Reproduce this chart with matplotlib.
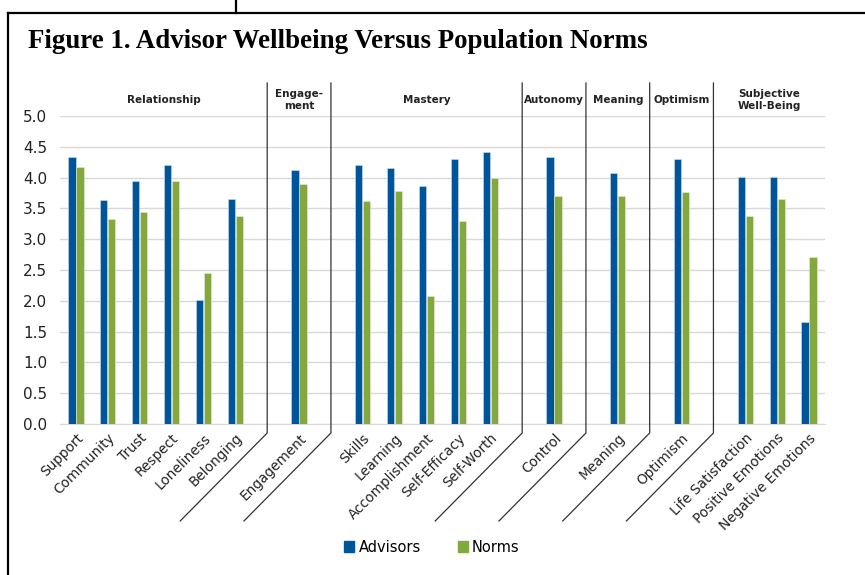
import matplotlib
matplotlib.use("Agg")
import matplotlib.pyplot as plt
from matplotlib.lines import Line2D
from matplotlib.patches import Patch
import numpy as np

categories = ["Support", "Community", "Trust", "Respect", "Loneliness", "Belonging", "",
              "Engagement", "",
              "Skills", "Learning", "Accomplishment", "Self-Efficacy", "Self-Worth", "",
              "Control", "", "Meaning", "", "Optimism", "",
              "Life Satisfaction", "Positive Emotions", "Negative Emotions"]
advisors = [4.33, 3.64, 3.95, 4.20, 2.02, 3.66, None,
            4.12, None,
            4.20, 4.16, 3.86, 4.31, 4.41, None,
            4.33, None, 4.07, None, 4.31, None,
            4.01, 4.01, 1.65]
norms = [4.18, 3.33, 3.44, 3.95, 2.45, 3.37, None,
         3.90, None,
         3.62, 3.79, 2.08, 3.30, 4.00, None,
         3.70, None, 3.70, None, 3.77, None,
         3.38, 3.66, 2.71]
groups = ["Relationship", "Engage-\nment", "Mastery", "Autonomy", "Meaning", "Optimism",
          "Subjective\nWell-Being"]
yticks = [0.0, 0.5, 1.0, 1.5, 2.0, 2.5, 3.0, 3.5, 4.0, 4.5, 5.0]

BLUE = "#00549A"
GREEN = "#82A83E"
FONT = "DejaVu Sans"

W, H = 865, 575
fig = plt.figure(figsize=(W / 100, H / 100), dpi=100)
ax = fig.add_axes([60 / W, 1 - 424 / H, (825 - 60) / W, (424 - 116) / H])

x = np.arange(len(categories))
bw = 0.23
off = 0.125
for i, (a, n) in enumerate(zip(advisors, norms)):
    if a is not None:
        ax.bar(x[i] - off, a, width=bw, color=BLUE, edgecolor="#cfe0f0", linewidth=0.4, zorder=3)
    if n is not None:
        ax.bar(x[i] + off, n, width=bw, color=GREEN, edgecolor="#e2eecf", linewidth=0.4, zorder=3)

ax.set_xlim(-0.5, len(categories) - 0.5)
ax.set_ylim(0, 5)
ax.set_yticks(yticks)
ax.set_yticklabels([f"{v:.1f}" for v in yticks], fontsize=11, family=FONT, color="#222222")
ax.yaxis.grid(True, color="#d9d9d9", linewidth=1, zorder=0)
ax.set_axisbelow(True)
for s in ["top", "right", "left"]:
    ax.spines[s].set_visible(False)
ax.spines["bottom"].set_color("#d9d9d9")
ax.tick_params(axis="y", length=0, pad=9)
ax.tick_params(axis="x", length=0, pad=5)

ax.set_xticks(x)
ax.set_xticklabels(categories, rotation=45, ha="right", rotation_mode="anchor",
                   fontsize=9.8, family=FONT, color="#222222")

# separators
seps = [i for i, c in enumerate(categories) if c == ""]
px_x = (825 - 60) / len(categories)
px_y = (424 - 116) / 5.0
for s in seps:
    ytop = (424 - 83) / px_y
    ybot = -9 / px_y
    xe = s - 87 / px_x
    ye = ybot - 88 / px_y
    ax.add_line(Line2D([s, s, xe], [ytop, ybot, ye], color="#333333", linewidth=0.9,
                       clip_on=False, zorder=4))

# group headers
bounds = [-0.5] + seps + [len(categories) - 0.5]
for g, (l, r) in zip(groups, zip(bounds[:-1], bounds[1:])):
    ax.text((l + r) / 2, (424 - 100) / px_y, g, ha="center", va="center", fontsize=7.5,
            fontweight="bold", family=FONT, color="#222222", linespacing=1.25)

# legend
handles = [Patch(color=BLUE, label="Advisors"), Patch(color=GREEN, label="Norms")]
fig.legend(handles=handles, loc="center", bbox_to_anchor=(432 / W, 1 - 547 / H), ncol=2,
           frameon=False, prop={"family": FONT, "size": 10.5}, handlelength=0.7,
           handleheight=0.7, handletextpad=0.3, columnspacing=2.5)

# title
fig.text(28 / W, 1 - 41 / H, "Figure 1. Advisor Wellbeing Versus Population Norms",
         ha="left", va="center", fontsize=19.4, fontweight="bold", family="Liberation Serif",
         color="black")

# frame lines
fig.add_artist(Line2D([8 / W, 8 / W], [0, 1 - 13 / H], transform=fig.transFigure,
                      color="black", linewidth=1.6))
fig.add_artist(Line2D([8 / W, 1], [1 - 13 / H, 1 - 13 / H], transform=fig.transFigure,
                      color="black", linewidth=1.6))
fig.add_artist(Line2D([236 / W, 236 / W], [1 - 13 / H, 1], transform=fig.transFigure,
                      color="black", linewidth=1.6))

fig.savefig("out.png", dpi=100, facecolor="white")
